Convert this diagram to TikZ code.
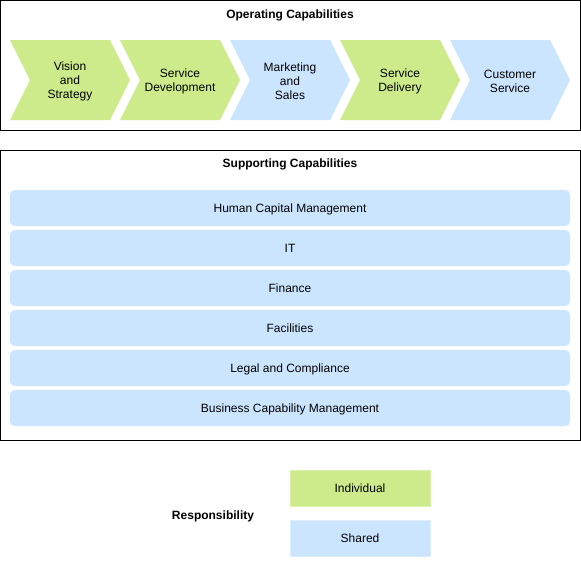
\documentclass[tikz,border=0pt]{standalone}
\usepackage{fontspec}
\setmainfont{Liberation Sans}
\definecolor{indivfill}{HTML}{CDEB8B}
\definecolor{sharedfill}{HTML}{CCE5FF}
\tikzset{
    txt/.style={font=\fontsize{12}{14}\selectfont, align=center, inner sep=0pt},
    title/.style={txt, font=\fontsize{12}{14}\selectfont\bfseries},
    caprow/.style={txt, fill=sharedfill, draw=sharedfill!70!white, rounded corners=5pt, minimum width=560pt, minimum height=36pt, text height=9pt, text depth=0pt},
    legbox/.style={txt, draw=#1!70!white, fill=#1, minimum width=140pt, minimum height=36pt, text height=9pt, text depth=0pt}
}
\begin{document}
\begin{tikzpicture}[x=1pt, y=-1pt]
        \useasboundingbox (0,0) rectangle (581,571);

        % operating capabilities
        \draw[line width=1pt] (0.5,0.5) rectangle (580,130);
        \node[title] (optitle) at (290,15) {Operating Capabilities};
        \foreach \i/\x/\col/\lbl in {1/10/indivfill/{Vision\\and\\Strategy}, 2/120/indivfill/{Service\\Development}, 3/230/sharedfill/{Marketing\\and\\Sales}, 4/340/indivfill/{Service\\Delivery}, 5/450/sharedfill/{Customer\\Service}}
        {
            \fill[\col] (\x,40) -- ++(100,0) -- ++(20,40) -- ++(-20,40) -- ++(-100,0) -- ++(20,-40) -- cycle;
            \node[txt] (op\i) at (\x+60,81) {\lbl};
        }

        % supporting capabilities
        \draw[line width=1pt] (0.5,150) rectangle (580,440);
        \node[title] (suptitle) at (290,164) {Supporting Capabilities};
        \foreach \i/\lbl in {1/Human Capital Management, 2/IT, 3/Finance, 4/Facilities, 5/Legal and Compliance, 6/Business Capability Management}
            \node[caprow] (sup\i) at (290,168+40*\i) {\lbl};

        % legend
        \node[title] (resp) at (213,516) {Responsibility};
        \node[legbox=indivfill] (indiv) at (360,488) {Individual};
        \node[legbox=sharedfill] (shared) at (360,538) {Shared};
    \end{tikzpicture}
\end{document}
